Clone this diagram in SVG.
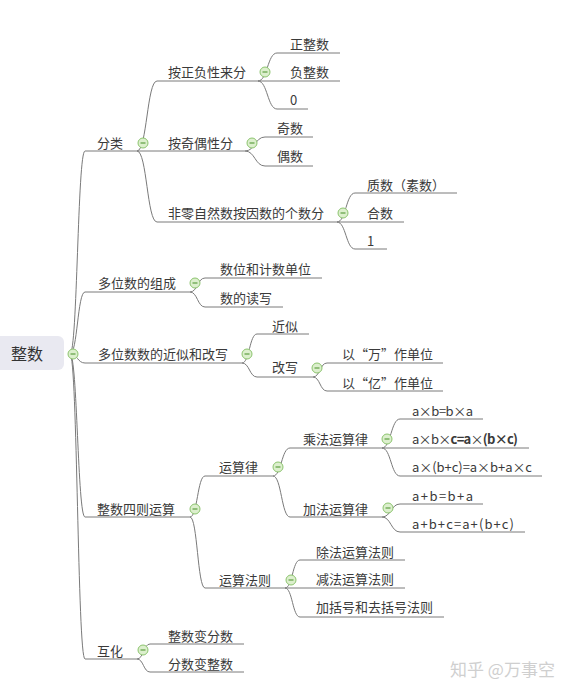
<svg xmlns="http://www.w3.org/2000/svg" width="573" height="695" viewBox="0 0 573 695">
<style>
text{font-family:"Noto Sans CJK SC","Noto Sans",sans-serif;font-size:13px;fill:#3a3a3a}
.root{font-size:16px;fill:#333}
.ln{fill:none;stroke:#7a7a7a;stroke-width:1}
.ul{stroke:#7a7a7a;stroke-width:1}
.cb{fill:#dcefcd;stroke:#8cc46e;stroke-width:1}
.cm{stroke:#5e9e42;stroke-width:1.2}
.b{font-weight:bold}
.wm{font-size:17px;fill:#cfcfcf}
</style>
<defs>
<g id="tog"><circle class="cb" r="5"/><line class="cm" x1="-2.5" y1="0" x2="2.5" y2="0"/></g>
</defs>
<rect width="573" height="695" fill="#fff"/>
<g id="connectors">
<path class="ln" d="M70 354 C77.5 354 77.5 151 85 151"/>
<path class="ln" d="M70 354 C77.5 354 77.5 292 85 292"/>
<path class="ln" d="M70 354 C77.5 354 77.5 363 85 363"/>
<path class="ln" d="M70 354 C77.5 354 77.5 517 85 517"/>
<path class="ln" d="M70 354 C77.5 354 77.5 659 85 659"/>
<path class="ln" d="M137 151 C147 151 147 81 157 81"/>
<path class="ln" d="M137 151 C147 151 147 222 157 222"/>
<path class="ln" d="M258 81 C267.5 81 267.5 53 277 53"/>
<path class="ln" d="M258 81 C267.5 81 267.5 109 277 109"/>
<path class="ln" d="M245 151 C255 151 255 137 265 137"/>
<path class="ln" d="M245 151 C255 151 255 166 265 166"/>
<path class="ln" d="M337 222 C346 222 346 193 355 193"/>
<path class="ln" d="M337 222 C346 222 346 249 355 249"/>
<path class="ln" d="M190 292 C197.5 292 197.5 278 205 278"/>
<path class="ln" d="M190 292 C197.5 292 197.5 307 205 307"/>
<path class="ln" d="M242 363 C249.5 363 249.5 334 257 334"/>
<path class="ln" d="M242 363 C249.5 363 249.5 377 257 377"/>
<path class="ln" d="M313 377 C320 377 320 363 327 363"/>
<path class="ln" d="M313 377 C320 377 320 391 327 391"/>
<path class="ln" d="M190 517 C197.5 517 197.5 476 205 476"/>
<path class="ln" d="M190 517 C197.5 517 197.5 588 205 588"/>
<path class="ln" d="M273 476 C281.5 476 281.5 448 290 448"/>
<path class="ln" d="M273 476 C281.5 476 281.5 517 290 517"/>
<path class="ln" d="M382 448 C391 448 391 419 400 419"/>
<path class="ln" d="M382 448 C391 448 391 476 400 476"/>
<path class="ln" d="M382 517 C391 517 391 504 400 504"/>
<path class="ln" d="M382 517 C391 517 391 532 400 532"/>
<path class="ln" d="M285 588 C292.5 588 292.5 560 300 560"/>
<path class="ln" d="M285 588 C292.5 588 292.5 617 300 617"/>
<path class="ln" d="M137 659 C143.5 659 143.5 644 150 644"/>
<path class="ln" d="M137 659 C143.5 659 143.5 672 150 672"/>
</g>
<g id="root"><rect x="-6" y="336" width="70" height="34" rx="6" fill="#e9e9f1"/><text class="root" x="11" y="360">整数</text><use href="#tog" x="73" y="354"/></g>
<g id="n-fenlei"><line class="ul" x1="85" y1="151" x2="137" y2="151"/><text x="97" y="148">分类</text><use href="#tog" x="143" y="143"/></g>
<g id="n-zhengfu"><line class="ul" x1="157" y1="81" x2="258" y2="81"/><text x="168" y="77">按正负性来分</text><use href="#tog" x="265" y="72"/></g>
<g id="n-zhengzhengshu"><line class="ul" x1="277" y1="53" x2="340" y2="53"/><text x="290" y="49">正整数</text></g>
<g id="n-fuzhengshu"><line class="ul" x1="258" y1="81" x2="340" y2="81"/><text x="290" y="77">负整数</text></g>
<g id="n-zero"><line class="ul" x1="277" y1="109" x2="308" y2="109"/><text x="290" y="105">0</text></g>
<g id="n-jiou"><line class="ul" x1="137" y1="151" x2="245" y2="151"/><text x="168" y="148">按奇偶性分</text><use href="#tog" x="252" y="143"/></g>
<g id="n-jishu"><line class="ul" x1="265" y1="137" x2="313" y2="137"/><text x="277" y="133">奇数</text></g>
<g id="n-oushu"><line class="ul" x1="265" y1="166" x2="313" y2="166"/><text x="277" y="161">偶数</text></g>
<g id="n-yinshu"><line class="ul" x1="157" y1="222" x2="337" y2="222"/><text x="168" y="218">非零自然数按因数的个数分</text><use href="#tog" x="343" y="213"/></g>
<g id="n-zhishu"><line class="ul" x1="355" y1="193" x2="457" y2="193"/><text x="367" y="190">质数（素数）</text></g>
<g id="n-heshu"><line class="ul" x1="337" y1="222" x2="404" y2="222"/><text x="367" y="218">合数</text></g>
<g id="n-one"><line class="ul" x1="355" y1="249" x2="387" y2="249"/><text x="367" y="246">1</text></g>
<g id="n-zucheng"><line class="ul" x1="85" y1="292" x2="190" y2="292"/><text x="98" y="288">多位数的组成</text><use href="#tog" x="195" y="283"/></g>
<g id="n-shuwei"><line class="ul" x1="205" y1="278" x2="322" y2="278"/><text x="220" y="274">数位和计数单位</text></g>
<g id="n-duxie"><line class="ul" x1="205" y1="307" x2="283" y2="307"/><text x="220" y="303">数的读写</text></g>
<g id="n-jinsi-gaixie"><line class="ul" x1="85" y1="363" x2="242" y2="363"/><text x="98" y="359">多位数数的近似和改写</text><use href="#tog" x="247" y="354"/></g>
<g id="n-jinsi"><line class="ul" x1="257" y1="334" x2="309" y2="334"/><text x="272" y="331">近似</text></g>
<g id="n-gaixie"><line class="ul" x1="257" y1="377" x2="313" y2="377"/><text x="272" y="372">改写</text><use href="#tog" x="317" y="368"/></g>
<g id="n-wan"><line class="ul" x1="327" y1="363" x2="443" y2="363"/><text x="342" y="359">以“万”作单位</text></g>
<g id="n-yi"><line class="ul" x1="327" y1="391" x2="443" y2="391"/><text x="342" y="388">以“亿”作单位</text></g>
<g id="n-sizeyunsuan"><line class="ul" x1="85" y1="517" x2="190" y2="517"/><text x="97" y="514">整数四则运算</text><use href="#tog" x="195" y="509"/></g>
<g id="n-yunsuanlv"><line class="ul" x1="205" y1="476" x2="273" y2="476"/><text x="219" y="472">运算律</text><use href="#tog" x="278" y="467"/></g>
<g id="n-chengfa"><line class="ul" x1="290" y1="448" x2="382" y2="448"/><text x="303" y="444">乘法运算律</text><use href="#tog" x="387" y="439"/></g>
<g id="n-f1"><line class="ul" x1="400" y1="419" x2="483" y2="419"/><text x="412" y="416" textLength="61" lengthAdjust="spacing">a×b=b×a</text></g>
<g id="n-f2"><line class="ul" x1="382" y1="448" x2="529" y2="448"/><text x="412" y="444" textLength="106" lengthAdjust="spacing">a×b×<tspan class="b">c=a</tspan>×<tspan class="b">(b×c)</tspan></text></g>
<g id="n-f3"><line class="ul" x1="400" y1="476" x2="542" y2="476"/><text x="412" y="472" textLength="120" lengthAdjust="spacing">a×(b+c)=a×b+a×c</text></g>
<g id="n-jiafa"><line class="ul" x1="290" y1="517" x2="382" y2="517"/><text x="303" y="514">加法运算律</text><use href="#tog" x="388" y="508"/></g>
<g id="n-f4"><line class="ul" x1="400" y1="504" x2="483" y2="504"/><text x="412" y="501" textLength="61" lengthAdjust="spacing">a+b=b+a</text></g>
<g id="n-f5"><line class="ul" x1="400" y1="532" x2="525" y2="532"/><text x="412" y="529" textLength="102" lengthAdjust="spacing">a+b+c=a+(b+c)</text></g>
<g id="n-fazhe"><line class="ul" x1="205" y1="588" x2="285" y2="588"/><text x="219" y="585">运算法则</text><use href="#tog" x="291" y="580"/></g>
<g id="n-chufa"><line class="ul" x1="300" y1="560" x2="405" y2="560"/><text x="316" y="557">除法运算法则</text></g>
<g id="n-jianfa"><line class="ul" x1="285" y1="588" x2="405" y2="588"/><text x="316" y="584">减法运算法则</text></g>
<g id="n-kuohao"><line class="ul" x1="300" y1="617" x2="444" y2="617"/><text x="316" y="612">加括号和去括号法则</text></g>
<g id="n-huhua"><line class="ul" x1="85" y1="659" x2="137" y2="659"/><text x="97" y="656">互化</text><use href="#tog" x="143" y="650"/></g>
<g id="n-zhengbianfen"><line class="ul" x1="150" y1="644" x2="244" y2="644"/><text x="168" y="641">整数变分数</text></g>
<g id="n-fenbianzheng"><line class="ul" x1="150" y1="672" x2="244" y2="672"/><text x="168" y="669">分数变整数</text></g>
<text class="wm" x="450" y="676">知乎 @万事空</text>
</svg>
